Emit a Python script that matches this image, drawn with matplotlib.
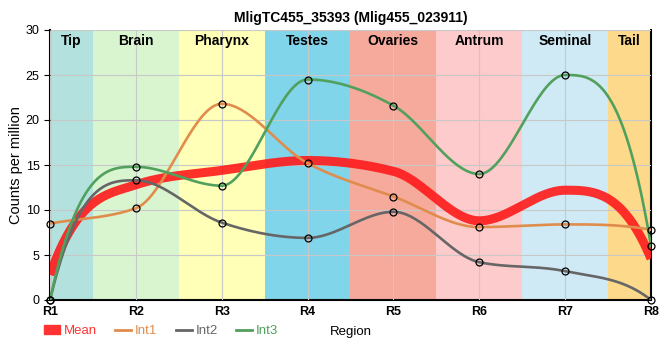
import matplotlib
matplotlib.use("Agg")
import matplotlib.pyplot as plt
from matplotlib.patches import Patch
from matplotlib.lines import Line2D
import numpy as np

plt.rcParams['font.family'] = ['Liberation Sans', 'DejaVu Sans']

regions = ['R1', 'R2', 'R3', 'R4', 'R5', 'R6', 'R7', 'R8']
int1 = [8.5, 10.2, 21.8, 15.2, 11.5, 8.1, 8.4, 7.8]
int2 = [0.0, 13.3, 8.6, 6.9, 9.8, 4.2, 3.2, 0.0]
int3 = [0.0, 14.8, 12.7, 24.5, 21.6, 14.0, 25.0, 6.0]
mean = [2.8, 12.8, 14.4, 15.5, 14.3, 8.8, 12.2, 4.6]

tissues = ['Tip', 'Brain', 'Pharynx', 'Testes', 'Ovaries', 'Antrum', 'Seminal', 'Tail']
tissue_bounds = [0, 0.5, 1.5, 2.5, 3.5, 4.5, 5.5, 6.5, 7]
tissue_colors = ['#b3e2de', '#d9f5d0', '#ffffb8', '#80d5eb', '#f5aa9c',
                 '#fdcbcb', '#cfeaf4', '#fdd98b']


def end_slope(s, m):
    e = 3 * s - m
    if np.sign(e) != np.sign(s):
        return 0.0
    return e


def smooth(x, y, n=40):
    # monotone cubic through the points
    x = np.asarray(x, float)
    y = np.asarray(y, float)
    h = np.diff(x)
    s = np.diff(y) / h
    m = np.zeros_like(y)
    for i in range(1, len(y) - 1):
        p = (s[i - 1] * h[i] + s[i] * h[i - 1]) / (h[i - 1] + h[i])
        m[i] = (np.sign(s[i - 1]) + np.sign(s[i])) * min(abs(s[i - 1]), abs(s[i]), 0.5 * abs(p))
    m[0] = end_slope(s[0], m[1])
    m[-1] = end_slope(s[-1], m[-2])
    xs, ys = [], []
    for i in range(len(h)):
        t = np.linspace(0, 1, n)
        h00 = 2 * t**3 - 3 * t**2 + 1
        h10 = t**3 - 2 * t**2 + t
        h01 = -2 * t**3 + 3 * t**2
        h11 = t**3 - t**2
        xs.append(x[i] + t * h[i])
        ys.append(h00 * y[i] + h10 * h[i] * m[i] + h01 * y[i + 1] + h11 * h[i] * m[i + 1])
    return np.concatenate(xs), np.concatenate(ys)


fig = plt.figure(figsize=(6.6, 3.6), dpi=100)
ax = fig.add_axes([50 / 660, 60 / 360, 601 / 660, 270 / 360])

for i, t in enumerate(tissues):
    ax.axvspan(tissue_bounds[i], tissue_bounds[i + 1], color=tissue_colors[i], lw=0, zorder=0)
    ax.text((tissue_bounds[i] + tissue_bounds[i + 1]) / 2, 29.6, t, ha='center', va='top',
            fontsize=10, fontweight='bold', zorder=5)

x = np.arange(len(regions))
ax.grid(True, color='#c8c8c8', lw=0.8, zorder=1)
ax.set_axisbelow(False)

xs, ys = smooth(x, mean)
ax.plot(xs, ys, color='#ff1a1a', lw=6.5, alpha=0.9, solid_capstyle='butt', zorder=3)
series = [(int1, '#e08c4c'), (int2, '#666666'), (int3, '#52a05e')]
for vals, c in series:
    xs, ys = smooth(x, vals)
    ax.plot(xs, ys, color=c, lw=1.9, zorder=4)
for vals, c in series:
    ax.plot(x, vals, 'o', ms=5, mfc='none', mec='black', mew=0.9, zorder=6, clip_on=False)

ax.set_xlim(0, 7)
ax.set_ylim(0, 30)
ax.set_xticks(x)
ax.set_xticklabels(regions, fontweight='bold', fontsize=9)
ax.set_yticks(range(0, 31, 5))
ax.tick_params(axis='y', labelsize=9, length=4)
ax.tick_params(axis='x', length=0, pad=4)
ax.set_ylabel('Counts per million', fontsize=10.5, labelpad=2)
ax.set_xlabel('Region', fontsize=9.5, labelpad=6)
ax.set_title('MligTC455_35393 (Mlig455_023911)', fontsize=10, fontweight='bold', pad=6)
for side in ['left', 'bottom', 'right']:
    ax.spines[side].set_linewidth(1.5)
ax.spines['top'].set_visible(False)

handles = [Patch(color='#ff3333'),
           Line2D([], [], color='#e08c4c', lw=2),
           Line2D([], [], color='#666666', lw=2),
           Line2D([], [], color='#52a05e', lw=2)]
leg = fig.legend(handles, ['Mean', 'Int1', 'Int2', 'Int3'], ncol=4, frameon=False,
                 loc='center left', bbox_to_anchor=(32 / 660, 29 / 360), fontsize=9.5,
                 handlelength=1.2, handletextpad=0.3, columnspacing=1.4)
for txt, c in zip(leg.get_texts(), ['#ff3333', '#e08c4c', '#666666', '#52a05e']):
    txt.set_color(c)

fig.savefig('out.png', dpi=100)
